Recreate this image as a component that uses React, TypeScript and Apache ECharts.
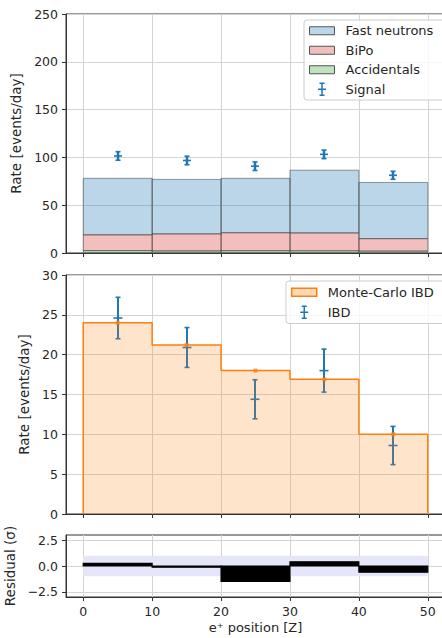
import React, { useEffect, useRef } from 'react';
import * as echarts from 'echarts';

// ---- data ----
const binEdges = [0, 10, 20, 30, 40, 50];
const accidentals = [2.5, 2.2, 2.4, 2.3, 2.0];
const bipo = [16.5, 17.8, 18.8, 18.7, 13.0];
const fastNeutrons = [59.1, 57.0, 56.9, 65.6, 58.8];
const signal = [101.5, 96.8, 90.8, 103.2, 81.3];
const signalErr = [4.5, 4.5, 4.5, 4.5, 4.2];

const mcIbd = [24.0, 21.2, 18.0, 16.9, 10.0];
const ibd = [24.6, 20.9, 14.4, 18.0, 8.6];
const ibdErr = [2.6, 2.5, 2.45, 2.7, 2.4];

const residual = [0.25, -0.12, -1.48, 0.4, -0.6];
const sigmaBand = [-1, 1];

const xTicks = [0, 10, 20, 30, 40, 50];
const residualTicks = [-2.5, 0, 2.5];

// ---- style constants ----
const FONT = 'DejaVu Sans';
const TXT = '#262626';
const GRIDC = '#d4d4d4';
const C0 = '#1f77b4';
const C1 = '#ff7f0e';
const EDGE = 'rgba(70,70,70,0.55)';
const TICKFS = 12.5;
const NAMEFS = 13.5;
const PATCH = 'path://M0,0L25,0L25,8L0,8Z';
const ERRICON = 'path://M4,0L4,12M1.5,0L6.5,0M1.5,12L6.5,12M0,6L8,6';

const centers = binEdges.slice(0, -1).map((e, i) => (e + binEdges[i + 1]) / 2);

function stackRects(base: number[], vals: number[]) {
  return vals.map((v, i) => [binEdges[i], binEdges[i + 1], base[i], base[i] + v]);
}

const accBase = accidentals.map(() => 0);
const bipoBase = accidentals.slice();
const fnBase = accidentals.map((a, i) => a + bipo[i]);

const rectRender = (fill: string, stroke: string, lw: number) => (params: any, api: any) => {
  const p0 = api.coord([api.value(0), api.value(3)]);
  const p1 = api.coord([api.value(1), api.value(2)]);
  return {
    type: 'rect',
    shape: { x: p0[0], y: Math.min(p0[1], p1[1]), width: p1[0] - p0[0], height: Math.abs(p1[1] - p0[1]) },
    style: { fill, stroke, lineWidth: lw },
  };
};

const errRender = (color: string, capW: number, markW: number, lw: number) => (params: any, api: any) => {
  const x = api.value(0), y = api.value(1), e = api.value(2);
  const c = api.coord([x, y]);
  const hi = api.coord([x, y + e]);
  const lo = api.coord([x, y - e]);
  const cx = Math.round(c[0]);
  const st = { stroke: color, lineWidth: lw };
  const st2 = { stroke: color, lineWidth: 1.6 };
  return {
    type: 'group',
    children: [
      { type: 'line', shape: { x1: cx, y1: hi[1], x2: cx, y2: lo[1] }, style: st },
      { type: 'line', shape: { x1: cx - capW, y1: hi[1], x2: cx + capW, y2: hi[1] }, style: st2 },
      { type: 'line', shape: { x1: cx - capW, y1: lo[1], x2: cx + capW, y2: lo[1] }, style: st2 },
      { type: 'line', shape: { x1: cx - markW, y1: c[1], x2: cx + markW, y2: c[1] }, style: st2 },
    ],
  };
};

function stepPoints(vals: number[]) {
  const pts: number[][] = [[binEdges[0], 0]];
  vals.forEach((v, i) => pts.push([binEdges[i], v]));
  pts.push([binEdges[binEdges.length - 1], vals[vals.length - 1]]);
  pts.push([binEdges[binEdges.length - 1], 0]);
  return pts;
}

const baseX = (gridIndex: number, showLabels: boolean, name?: string) => ({
  type: 'value',
  gridIndex,
  min: -2.5,
  max: 52.5,
  name: name || '',
  nameLocation: 'middle',
  nameGap: 24,
  nameTextStyle: { fontFamily: FONT, fontSize: 13, color: TXT },
  axisLine: { show: true, onZero: false, lineStyle: { color: '#333', width: 1 } },
  axisTick: { show: true, inside: false, length: 4, customValues: xTicks, lineStyle: { color: '#333' } },
  axisLabel: { show: showLabels, customValues: xTicks, margin: 8, fontFamily: FONT, fontSize: TICKFS, color: TXT, formatter: (v: number) => String(v) },
  splitLine: { show: true, lineStyle: { color: GRIDC, width: 1 } },
});

const legendCommon = {
  orient: 'vertical',
  itemWidth: 25,
  itemHeight: 12,
  itemGap: 5,
  backgroundColor: 'rgba(255,255,255,0.8)',
  borderColor: '#cccccc',
  borderWidth: 1,
  borderRadius: 3,
  selectedMode: false,
  textStyle: { fontFamily: FONT, fontSize: 13, color: TXT, lineHeight: 14.5, padding: [0, 0, 0, 6] },
};

const yName = (name: string, gap: number) => ({
  name, nameLocation: 'middle', nameGap: gap,
  nameTextStyle: { fontFamily: FONT, fontSize: NAMEFS, color: TXT },
});

const gridBox = (top: number, height: number) => ({
  left: 66, right: -3, top, height,
  show: true, borderColor: '#333', borderWidth: 1,
  containLabel: false, outerBoundsMode: 'none',
});

export default function App() {
  const ref = useRef<HTMLDivElement>(null);
  useEffect(() => {
    if (!ref.current) return;
    const chart = echarts.init(ref.current, undefined, { renderer: 'svg' });
    const option: any = {
      animation: false,
      backgroundColor: '#ffffff',
      textStyle: { fontFamily: FONT },
      grid: [gridBox(14, 239), gridBox(275, 239), gridBox(535, 62)],
      xAxis: [baseX(0, false), baseX(1, false), baseX(2, true, 'e\u207A position [Z]')],
      yAxis: [
        {
          type: 'value', gridIndex: 0, min: 0, max: 250, interval: 50,
          ...yName('Rate [events/day]', 36),
          axisLine: { show: true, onZero: false, lineStyle: { color: '#333' } },
          axisTick: { show: true, length: 4, lineStyle: { color: '#333' } },
          axisLabel: { margin: 8, fontFamily: FONT, fontSize: TICKFS, color: TXT },
          splitLine: { show: true, lineStyle: { color: GRIDC } },
        },
        {
          type: 'value', gridIndex: 1, min: 0, max: 30, interval: 5,
          ...yName('Rate [events/day]', 30),
          axisLine: { show: true, onZero: false, lineStyle: { color: '#333' } },
          axisTick: { show: true, length: 4, lineStyle: { color: '#333' } },
          axisLabel: { margin: 8, fontFamily: FONT, fontSize: TICKFS, color: TXT },
          splitLine: { show: true, lineStyle: { color: GRIDC } },
        },
        {
          type: 'value', gridIndex: 2, min: -3, max: 3,
          ...yName('Residual (\u03C3)', 42),
          axisLine: { show: true, onZero: false, lineStyle: { color: '#333' } },
          axisTick: { show: true, length: 4, customValues: residualTicks, lineStyle: { color: '#333' } },
          axisLabel: {
            margin: 8, fontFamily: FONT, fontSize: TICKFS, color: TXT, customValues: residualTicks,
            formatter: (v: number) => (v < 0 ? '\u2212' : '') + Math.abs(v).toFixed(1),
          },
          splitLine: { show: true, lineStyle: { color: GRIDC } },
        },
      ],
      legend: [
        {
          ...legendCommon,
          left: 304,
          top: 20,
          padding: [3.5, 14, 3.5, 5],
          data: [
            { name: 'Fast neutrons', icon: PATCH, itemStyle: { color: 'rgba(31,119,180,0.3)', borderColor: '#555', borderWidth: 1 } },
            { name: 'BiPo', icon: PATCH, itemStyle: { color: 'rgba(214,39,40,0.3)', borderColor: '#555', borderWidth: 1 } },
            { name: 'Accidentals', icon: PATCH, itemStyle: { color: 'rgba(44,160,44,0.3)', borderColor: '#555', borderWidth: 1 } },
            { name: 'Signal', icon: ERRICON, itemStyle: { color: C0, borderColor: C0, borderWidth: 1.5 } },
          ],
        },
        {
          ...legendCommon,
          left: 286,
          top: 281,
          padding: [4, 14, 4, 5],
          itemGap: 5.5,
          data: [
            { name: 'Monte-Carlo IBD', icon: PATCH, itemStyle: { color: 'rgba(255,127,14,0.3)', borderColor: C1, borderWidth: 1.5 } },
            { name: 'IBD', icon: ERRICON, itemStyle: { color: C0, borderColor: C0, borderWidth: 1.5 } },
          ],
        },
      ],
      series: [
        {
          name: 'Accidentals', type: 'custom', xAxisIndex: 0, yAxisIndex: 0,
          itemStyle: { color: 'rgba(44,160,44,0.3)' },
          renderItem: rectRender('rgba(44,160,44,0.3)', EDGE, 1),
          encode: { x: [0, 1], y: [2, 3] },
          data: stackRects(accBase, accidentals),
        },
        {
          name: 'BiPo', type: 'custom', xAxisIndex: 0, yAxisIndex: 0,
          itemStyle: { color: 'rgba(214,39,40,0.3)' },
          renderItem: rectRender('rgba(214,39,40,0.3)', EDGE, 1),
          encode: { x: [0, 1], y: [2, 3] },
          data: stackRects(bipoBase, bipo),
        },
        {
          name: 'Fast neutrons', type: 'custom', xAxisIndex: 0, yAxisIndex: 0,
          itemStyle: { color: 'rgba(31,119,180,0.3)' },
          renderItem: rectRender('rgba(31,119,180,0.3)', EDGE, 1),
          encode: { x: [0, 1], y: [2, 3] },
          data: stackRects(fnBase, fastNeutrons),
        },
        {
          name: 'Signal', type: 'custom', xAxisIndex: 0, yAxisIndex: 0,
          itemStyle: { color: C0 },
          renderItem: errRender(C0, 2.5, 4, 2.5),
          encode: { x: 0, y: 1 },
          data: centers.map((c, i) => [c, signal[i], signalErr[i]]),
        },
        {
          name: 'Monte-Carlo IBD', type: 'line', xAxisIndex: 1, yAxisIndex: 1,
          step: 'end', symbol: 'none',
          lineStyle: { color: C1, width: 1.5 },
          itemStyle: { color: C1 },
          areaStyle: { color: 'rgba(255,127,14,0.3)', origin: 0 },
          data: stepPoints(mcIbd),
        },
        {
          name: 'MC points', type: 'scatter', xAxisIndex: 1, yAxisIndex: 1,
          symbol: 'rect', symbolSize: 4,
          itemStyle: { color: C1 },
          data: centers.map((c, i) => [c, mcIbd[i]]),
        },
        {
          name: 'IBD', type: 'custom', xAxisIndex: 1, yAxisIndex: 1,
          itemStyle: { color: C0 },
          renderItem: errRender(C0, 2.5, 4.5, 2),
          encode: { x: 0, y: 1 },
          data: centers.map((c, i) => [c, ibd[i], ibdErr[i]]),
        },
        {
          name: 'Sigma band', type: 'custom', xAxisIndex: 2, yAxisIndex: 2,
          renderItem: rectRender('#e6e6fa', 'none', 0),
          encode: { x: [0, 1], y: [2, 3] },
          data: [[binEdges[0], binEdges[binEdges.length - 1], sigmaBand[0], sigmaBand[1]]],
        },
        {
          name: 'Residual', type: 'custom', xAxisIndex: 2, yAxisIndex: 2,
          renderItem: rectRender('#000000', '#000000', 1.2),
          encode: { x: [0, 1], y: [2, 3] },
          data: residual.map((r, i) => [binEdges[i], binEdges[i + 1], 0, r]),
        },
      ],
    };
    chart.setOption(option);
    return () => chart.dispose();
  }, []);
  return <div ref={ref} style={{ position: 'fixed', left: 0, top: 0, width: 442, height: 638 }} />;
}
